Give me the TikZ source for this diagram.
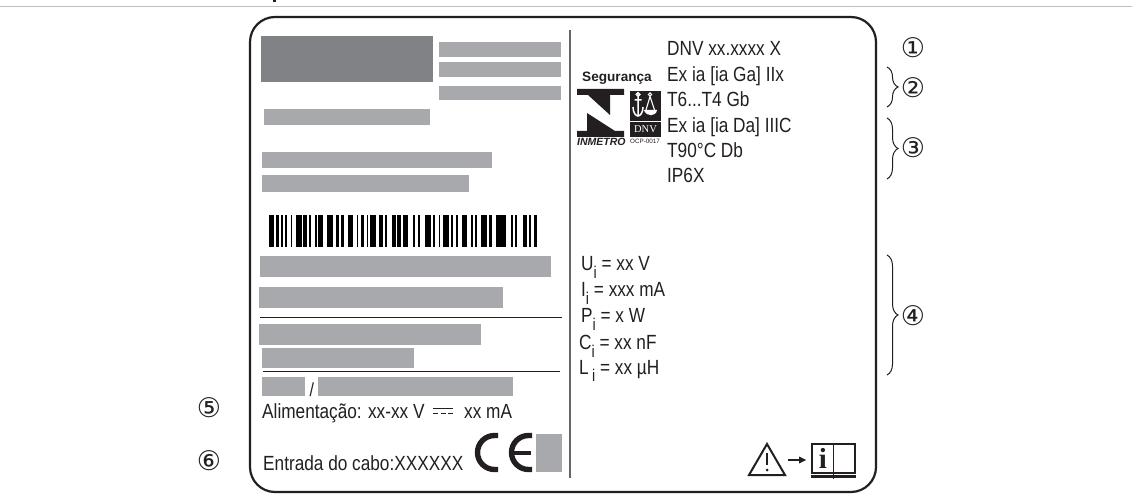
\documentclass[tikz,border=0pt]{standalone}
\usepackage{fontspec}
\usepackage{xcolor}
\usetikzlibrary{decorations.pathreplacing}
\setmainfont{Liberation Sans}
\newfontfamily\platefont[FakeStretch=0.84]{Liberation Sans}
\newfontfamily\circledfont{DejaVu Sans}
\definecolor{platedark}{HTML}{231F20}
\definecolor{blockgrey}{HTML}{A7A9AC}
\definecolor{blockdark}{HTML}{808285}
\newcommand{\subi}{\raisebox{-0.36em}{\fontsize{17}{17}\selectfont i}}
\tikzset{
  platetext/.style={anchor=base west,inner sep=0pt,text=platedark,
    font=\platefont\fontsize{20.5}{20.5}\selectfont},
  calloutnum/.style={inner sep=0pt,text=platedark,
    font=\circledfont\fontsize{27}{27}\selectfont},
  logotext/.style={anchor=base west,inner sep=0pt,text=platedark},
  greyblock/.style={fill=blockgrey,draw=none},
  framerule/.style={line width=0.9pt,platedark},
  calloutbrace/.style={line width=1pt,platedark,
    decorate,decoration={brace,amplitude=11pt}},
  cestroke/.style={line width=5.4pt,platedark}
}
\begin{document}
\begin{tikzpicture}[x=1pt,y=-1pt]
  \newcommand{\plateblock}[4]{%
    \fill[greyblock] (#1,#2) rectangle (#3,#4);}
  \useasboundingbox (0,0) rectangle (1132,502);

  % top of the page
  \draw[line width=1pt,black!25] (0,6.5) -- (1132,6.5);
  \fill[platedark] (273,0) rectangle (275.5,2.5);

  % plate
  \draw[line width=2.2pt,platedark,rounded corners=25pt] (250,17) rectangle (876,492);
  \draw[line width=1.5pt,black!60] (570,30) -- (570,478);

  % left column
  \fill[blockdark] (261,36) rectangle (433,82);
  \plateblock{439}{42}{561}{57}
  \plateblock{439}{62}{561}{77}
  \plateblock{439}{86}{561}{100}
  \plateblock{264}{109}{430}{125}
  \plateblock{262}{152}{492}{168}
  \plateblock{262}{175}{469}{192}
  \plateblock{260}{256}{551}{277}
  \plateblock{259}{287}{503}{308}
  \plateblock{259}{324}{481}{345}
  \plateblock{262}{348}{414}{368}
  \plateblock{262}{377}{305}{396}
  \plateblock{318}{377}{513}{396}
  \plateblock{536}{434}{562}{472}
  \draw[framerule] (260,317) -- (562,317);
  \draw[framerule] (263,371) -- (560,371);

  \foreach \barx/\barw in {269.3/4.7,276/3,280.7/2.7,285.3/2,290.7/1.3,295.7/6.3,
      303.3/3.3,309.3/1.7,314.7/2,318/5.3,326.7/6,336/3,341/3,348/5.3,356.7/1.3,
      360.7/3.3,366.7/1.3,370/5.7,379.3/4,385.3/1.3,391.7/4.3,397.3/3.3,402.7/5.7,
      412.7/2,418/2,425/5.7,433.3/1.3,438.7/1.3,442.7/6,450.7/2.7,456/2,461.7/5.7,
      470.7/2,475.3/2,480.7/6.7,489.3/2.3,496/10,510.7/2,515.3/2,523.3/4,529.3/2,534/2.7}
    \fill[black] (\barx,215) rectangle ++(\barw,32);

  \node[platetext,font=\platefont\fontsize{19}{19}\selectfont] (slash) at (309.5,396) {/};
  \node[platetext] (supply) at (262,418) {Alimentação: xx-xx V};
  \draw[line width=0.9pt,platedark] (433,408.5) -- (453,408.5);
  \draw[line width=0.9pt,platedark,dash pattern=on 5pt off 2.5pt] (433,413.5) -- (453,413.5);
  \node[platetext] (supplyload) at (464,418) {xx mA};
  \node[platetext] (cable) at (263,470) {Entrada do cabo:XXXXXX};

  % CE mark
  \draw[cestroke] (498,435.5) -- (494.5,435.5) arc[start angle=270,end angle=90,radius=17] -- (498,469.5);
  \draw[cestroke] (532,435.5) -- (528.5,435.5) arc[start angle=270,end angle=90,radius=17] -- (532,469.5);
  \draw[line width=4pt,platedark] (512,452.5) -- (531,452.5);

  % certification logos
  \node[logotext,font=\bfseries\fontsize{13.6}{13.6}\selectfont] (seguranca) at (582,82) {Segurança};
  \fill[platedark] (577,89) -- (624,89) -- (624,95) -- (610,95) -- (610,115) -- (588,95) -- (577,95) -- cycle;
  \fill[platedark] (577,137) -- (624,137) -- (624,131) -- (615,131) -- (587,113) -- (587,131) -- (577,131) -- cycle;
  \node[logotext,font=\bfseries\itshape\fontsize{10.5}{10.5}\selectfont] (inmetro) at (577,146) {INMETRO};
  \fill[platedark] (630,91) rectangle (661,121);
  \draw[white,line width=1.5pt] (638,94.5) circle (1.7) (638,96.5) -- (638,115) (634.5,100) -- (641.5,100)
    (633,107) .. controls (633,113) and (636,116) .. (638,116) .. controls (640,116) and (643,113) .. (643,107);
  \draw[white,line width=1.1pt] (650,94.5) circle (1.7) (650,96.5) -- (646,110) (650,96.5) -- (654.5,110);
  \fill[white] (644,110) -- (657,110) .. controls (656,117) and (646,117) .. (644,110) -- cycle;
  \fill[platedark] (630,122) rectangle (661,137);
  \node[inner sep=0pt,text=white,font=\fontspec{Liberation Serif}\fontsize{10.5}{10.5}\selectfont] (dnvbox) at (645.5,129.5) {DNV};
  \node[logotext,font=\fontsize{6.3}{6.3}\selectfont] (ocp) at (630,144) {OCP-0017};

  % right column
  \node[platetext] (dnv) at (667,56) {DNV xx.xxxx X};
  \node[platetext] (gas) at (667,82) {Ex ia [ia Ga] IIx};
  \node[platetext] (gastemp) at (667,107) {T6...T4 Gb};
  \node[platetext] (dust) at (667,133) {Ex ia [ia Da] IIIC};
  \node[platetext] (dusttemp) at (667,158) {T90°C Db};
  \node[platetext] (ingress) at (667,183) {IP6X};
  \node[platetext] (ui) at (581,271) {U\subi{} = xx V};
  \node[platetext] (ii) at (581,297) {I\subi{} = xxx mA};
  \node[platetext] (pi) at (581,323) {P\subi{} = x W};
  \node[platetext] (ci) at (579,350) {C\subi{} = xx nF};
  \node[platetext] (li) at (579,374) {L\,\subi{} = xx µH};

  % warning sign and manual
  \draw[line width=2pt,platedark,line join=miter] (767,444) -- (785,475) -- (749,475) -- cycle;
  \draw[line width=2.6pt,platedark] (767,453) -- (767,465);
  \fill[platedark] (767,470) circle (1.5);
  \draw[line width=1.6pt,platedark] (788,460) -- (800,460);
  \fill[platedark] (806,460) -- (799,456.5) -- (799,463.5) -- cycle;
  \draw[line width=1.6pt,platedark] (812,444) rectangle (855,473) (833.5,444) -- (833.5,479);
  \draw[line width=2.2pt,platedark] (811,476.5) -- (856,476.5);
  \node[inner sep=0pt,text=platedark,font=\fontspec{Liberation Serif}\bfseries\fontsize{29}{29}\selectfont] (infoi) at (823,458) {i};

  % callouts
  \coordinate (brace2a) at (887,67);
  \coordinate (brace2b) at (887,107);
  \coordinate (brace3a) at (887,118);
  \coordinate (brace3b) at (887,179);
  \coordinate (brace4a) at (887,255);
  \coordinate (brace4b) at (887,375);
  \draw[calloutbrace] (brace2a) -- (brace2b);
  \draw[calloutbrace] (brace3a) -- (brace3b);
  \draw[calloutbrace] (brace4a) -- (brace4b);
  \node[calloutnum] (num1) at (913,48) {①};
  \node[calloutnum] (num2) at (913,88) {②};
  \node[calloutnum] (num3) at (913,148) {③};
  \node[calloutnum] (num4) at (913,316) {④};
  \node[calloutnum] (num5) at (209,408) {⑤};
  \node[calloutnum] (num6) at (209,461) {⑥};
\end{tikzpicture}
\end{document}
